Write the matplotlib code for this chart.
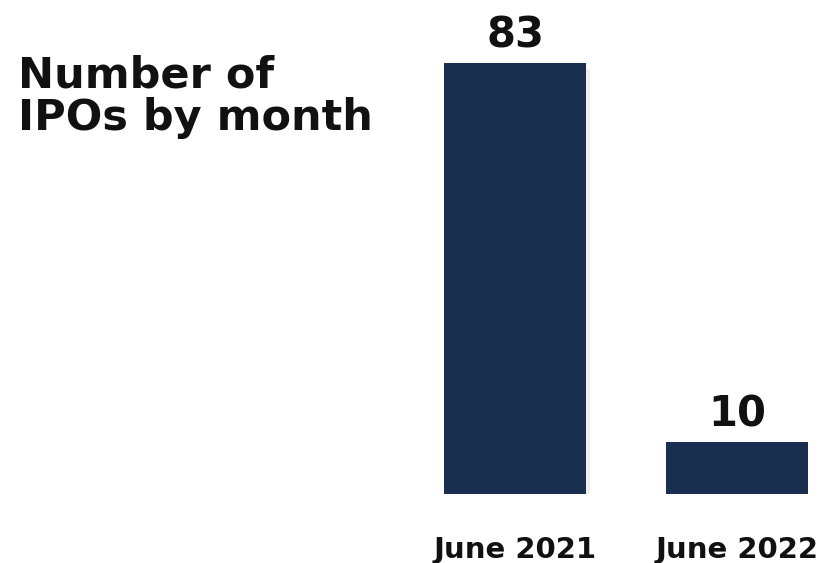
import matplotlib
import matplotlib.pyplot as plt
import matplotlib.patheffects as pe

matplotlib.use("Agg")

months = ["June 2021", "June 2022"]
ipos = [83, 10]
title_lines = ["Number of", "IPOs by month"]

BAR = "#1a2f50"
TXT = "#111111"

fig = plt.figure(figsize=(8.33, 5.63), dpi=100)
W, H = 833, 563
ax = fig.add_axes([444 / W, (H - 494) / H, 364 / W, 431 / H])

shadow = [pe.SimplePatchShadow(offset=(3, -4), shadow_rgbFace="#999999", alpha=0.15), pe.Normal()]

x = list(range(len(months)))
bars = ax.bar(x, ipos, width=0.64, color=BAR)
for b in bars:
    b.set_path_effects(shadow)

ax.set_xlim(-0.32, 1.32)
ax.set_ylim(0, 83)
ax.axis("off")

# value labels above bars
for xi, v in zip(x, ipos):
    ax.annotate(str(v), (xi, v), xytext=(0, 11), textcoords="offset points",
                ha="center", va="baseline", fontsize=30, fontweight="bold", color=TXT)

# month labels under bars
for xi, m in zip(x, months):
    ax.annotate(m, (xi, 0), xytext=(0, -46), textcoords="offset points",
                ha="center", va="baseline", fontsize=21, fontweight="bold", color=TXT)

for line, base in zip(title_lines, [87, 130]):
    fig.text(18 / W, 1 - base / H, line, ha="left", va="baseline",
             fontsize=31, fontweight="bold", color=TXT)

fig.savefig("out.png", dpi=100)
